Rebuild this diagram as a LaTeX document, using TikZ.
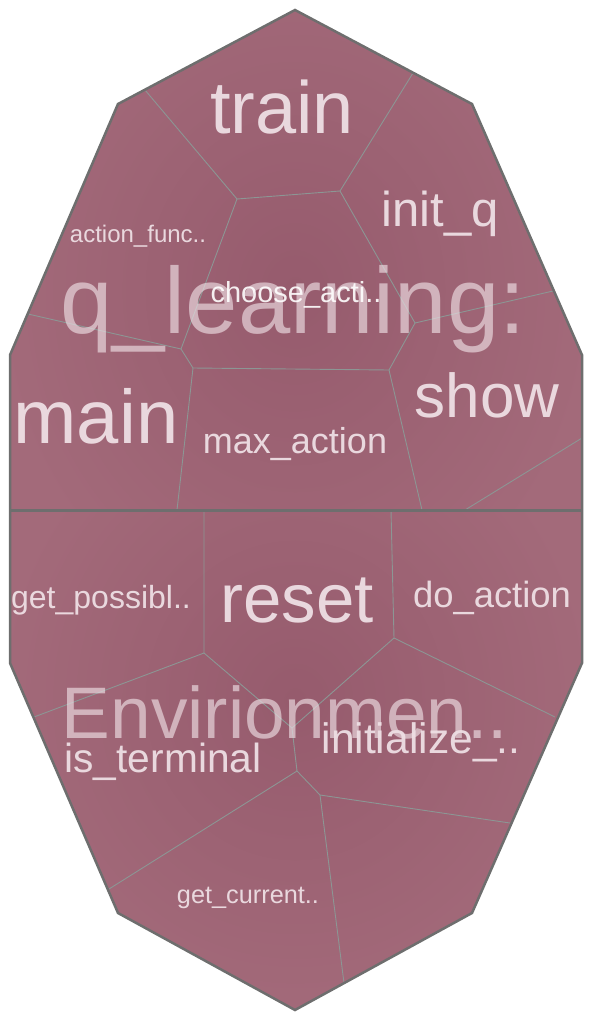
\documentclass[tikz,border=0pt]{standalone}
\usepackage{fontspec}
\setmainfont{Liberation Sans}
\begin{document}
\begin{tikzpicture}[x=1pt,y=-1pt,
  outer/.style={draw=outergray,line width=2.5pt,line join=miter},
  sep/.style={draw=outergray,line width=3pt},
  lbl/.style={text=labelc,inner sep=0pt,anchor=base,text opacity=0.95},
  big/.style={text=labelc,inner sep=0pt,anchor=base,text opacity=0.65}]
\useasboundingbox (0,0) rectangle (592,1020);
\definecolor{cellin}{HTML}{965B6D}
\definecolor{cellout}{HTML}{A36A7A}
\definecolor{linegray}{HTML}{8C9694}
\definecolor{outergray}{HTML}{6E6E6E}
\definecolor{labelc}{HTML}{EEDFE4}
% outer shape
\coordinate (A) at (295,10);
\coordinate (UL) at (118,104);
\coordinate (UR) at (472,104);
\coordinate (L1) at (10,355);
\coordinate (R1) at (582,355);
\coordinate (SL) at (10,510);
\coordinate (SR) at (582,510);
\coordinate (L2) at (10,663);
\coordinate (R2) at (582,663);
\coordinate (LL) at (118,913);
\coordinate (LR) at (472,913);
\coordinate (B) at (295,1010);
\begin{scope}
\clip (A)--(UR)--(R1)--(SR)--(SL)--(L1)--(UL)--cycle;
\shade[inner color=cellin,outer color=cellout] (-5,-60) rectangle (595,640);
\end{scope}
\begin{scope}
\clip (SL)--(SR)--(R2)--(LR)--(B)--(LL)--(L2)--cycle;
\shade[inner color=cellin,outer color=cellout] (-5,380) rectangle (595,1020);
\end{scope}
% top half internal vertices
\coordinate (t1) at (145,90);
\coordinate (t2) at (237,199);
\coordinate (t3) at (340,191);
\coordinate (t4) at (413,73);
\coordinate (t5) at (181,349);
\coordinate (t6) at (28,314);
\coordinate (t7) at (193,368);
\coordinate (t8) at (415,323);
\coordinate (t9) at (553,291);
\coordinate (t10) at (389,370);
\coordinate (t11) at (177,510);
\coordinate (t12) at (422,510);
\coordinate (t13) at (582,438);
\coordinate (t14) at (465,510);
% bottom half internal vertices
\coordinate (b1) at (204,510);
\coordinate (b2) at (204,653);
\coordinate (b3) at (391,510);
\coordinate (b4) at (394,638);
\coordinate (b5) at (34,717);
\coordinate (b6) at (292,728);
\coordinate (b7) at (555,717);
\coordinate (b8) at (297,771);
\coordinate (b9) at (109,889);
\coordinate (b10) at (320,795);
\coordinate (b11) at (510,823);
\coordinate (b12) at (344,983);
\begin{scope}[draw=linegray,line width=0.9pt]
\draw (t1)--(t2)--(t3)--(t4);
\draw (t2)--(t5)--(t6);
\draw (t5)--(t7)--(t10)--(t8)--(t3);
\draw (t8)--(t9);
\draw (t7)--(t11);
\draw (t10)--(t12);
\draw (t13)--(t14);
\draw (b1)--(b2)--(b5);
\draw (b2)--(b6)--(b4)--(b3);
\draw (b4)--(b7);
\draw (b6)--(b8)--(b9);
\draw (b8)--(b10)--(b11);
\draw (b10)--(b12);
\end{scope}
\draw[sep] (SL)--(SR);
\draw[outer] (A)--(UR)--(R1)--(R2)--(LR)--(B)--(LL)--(L2)--(L1)--(UL)--cycle;
% labels top
\node[lbl,font=\fontsize{74}{74}\selectfont] (train) at (282,133) {train};
\node[lbl,font=\fontsize{49}{49}\selectfont] (initq) at (440,226) {init\_q};
\node[lbl,font=\fontsize{24}{24}\selectfont] (actf) at (138,242) {action\_func..};
\node[lbl,font=\fontsize{76}{76}\selectfont] (main) at (96,443) {main};
\node[lbl,font=\fontsize{36}{36}\selectfont] (maxa) at (295,453) {max\_action};
\node[lbl,font=\fontsize{62}{62}\selectfont] (show) at (487,417) {show};
\node[big,font=\fontsize{94}{94}\selectfont] (ql) at (293,333) {q\_learning:};
\node[lbl,text=white,text opacity=0.9,font=\fontsize{29}{29}\selectfont] (choose) at (296,302) {choose\_acti..};
% labels bottom
\node[lbl,font=\fontsize{32}{32}\selectfont] (getp) at (101,608) {get\_possibl..};
\node[lbl,font=\fontsize{69}{69}\selectfont] (reset) at (297,622) {reset};
\node[lbl,font=\fontsize{36.4}{36.4}\selectfont] (doa) at (492,607) {do\_action};
\node[lbl,font=\fontsize{40.7}{40.7}\selectfont] (ist) at (163,772) {is\_terminal};
\node[big,font=\fontsize{73}{73}\selectfont] (env) at (285,738) {Envirionmen..};
\node[lbl,font=\fontsize{42.6}{42.6}\selectfont] (init) at (421,753) {initialize\_..};
\node[lbl,font=\fontsize{25.3}{25.3}\selectfont] (getc) at (248,903) {get\_current..};
\end{tikzpicture}
\end{document}
